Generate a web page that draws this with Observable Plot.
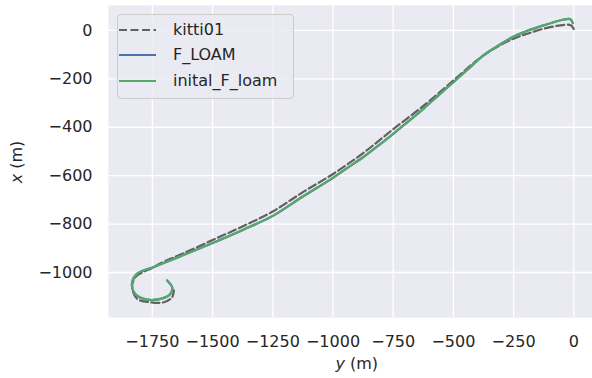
<!DOCTYPE html>
<html>
<head>
<meta charset="utf-8">
<script src="https://cdn.jsdelivr.net/npm/d3@7"></script>
<script src="https://cdn.jsdelivr.net/npm/@observablehq/plot@0.6"></script>
<style>
  html, body { margin: 0; padding: 0; background: #ffffff; }
  #wrap { position: relative; width: 592px; height: 378px; overflow: hidden;
          font-family: "DejaVu Sans", sans-serif; color: #262626; }
  #wrap svg { position: absolute; left: 0; top: 0; }
  .axlabel { position: absolute; font-size: 16px; line-height: 16px; white-space: nowrap; }
  #legend { position: absolute; left: 117px; top: 14px; width: 175px; height: 83px;
            background: rgba(234,234,242,0.8); border: 1px solid #cccccc; border-radius: 4px; }
  .lrow { position: absolute; left: 0; height: 20px; width: 175px; }
  .lrow svg { position: absolute; left: 5px; top: 0; }
  .lrow span { position: absolute; left: 55px; top: 2px; font-size: 16px; line-height: 16px; }
</style>
</head>
<body>
<div id="wrap"></div>
<script>
// kitti01 ground truth (horizontal: y in m, vertical: x in m)
const gtY = [0, -8, -18, -56, -125, -194, -250, -333, -400, -500, -625, -750, -875, -1000, -1125, -1250, -1372, -1500, -1633, -1716, -1744, -1820, -1834, -1813, -1757, -1703, -1668, -1661];
const gtX = [6, 18, 23, 21, 7, -14, -34, -76, -122, -207, -312, -408, -507, -593, -668, -748, -808, -866, -926, -962, -978, -1019, -1061, -1109, -1123, -1123, -1102, -1074];

// F_LOAM estimate
const floamY = [-4, -12, -22, -42, -70, -125, -190, -250, -312, -375, -437, -500, -562, -625, -687, -750, -812, -875, -937, -1000, -1125, -1250, -1372, -1500, -1626, -1716, -1744, -1813, -1834, -1827, -1786, -1716, -1675, -1668, -1689];
const floamX = [30, 45, 48, 45, 38, 21, 0, -25, -62, -103, -158, -214, -268, -324, -376, -427, -476, -524, -566, -609, -686, -766, -823, -878, -930, -966, -977, -1005, -1040, -1081, -1109, -1109, -1088, -1061, -1033];

// inital_F_loam estimate (indistinguishable from F_LOAM in the picture)
const initY = [-4, -12, -22, -42, -70, -125, -190, -250, -312, -375, -437, -500, -562, -625, -687, -750, -812, -875, -937, -1000, -1125, -1250, -1372, -1500, -1626, -1716, -1744, -1813, -1834, -1827, -1786, -1716, -1675, -1668, -1689];
const initX = [30, 45, 48, 45, 38, 21, 0, -25, -62, -103, -158, -214, -268, -324, -376, -427, -476, -524, -566, -609, -686, -766, -823, -878, -930, -966, -977, -1005, -1040, -1081, -1109, -1109, -1088, -1061, -1033];

const xTicks = [-1750, -1500, -1250, -1000, -750, -500, -250, 0];
const yTicks = [0, -200, -400, -600, -800, -1000];
const seriesNames = ["kitti01", "F_LOAM", "inital_F_loam"];
const seriesColors = ["#616161", "#4C72B0", "#55A868"];
const xLabel = ["y", " (m)"];
const yLabel = ["x", " (m)"];

const toRows = (ys, xs, name) => ys.map((v, i) => ({h: v, v: xs[i], name}));
const gt = toRows(gtY, gtX, seriesNames[0]);
const floam = toRows(floamY, floamX, seriesNames[1]);
const init = toRows(initY, initX, seriesNames[2]);

const fmt = d3.format("d");
const chart = Plot.plot({
  width: 592,
  height: 378,
  marginLeft: 108,
  marginRight: 0,
  marginTop: 5,
  marginBottom: 61,
  style: {fontFamily: "DejaVu Sans", fontSize: "16px", color: "#262626", background: "transparent"},
  x: {domain: [-1932.3, 77.7]},
  y: {domain: [-1186, 103]},
  marks: [
    Plot.frame({fill: "#EAEAF2", stroke: "none"}),
    Plot.gridX(xTicks, {stroke: "#ffffff", strokeOpacity: 1, strokeWidth: 1.3}),
    Plot.gridY(yTicks, {stroke: "#ffffff", strokeOpacity: 1, strokeWidth: 1.3}),
    Plot.axisX(xTicks, {tickSize: 0, tickPadding: 18, tickFormat: fmt, label: null, fontSize: 16, fill: "#262626"}),
    Plot.axisY(yTicks, {tickSize: 0, tickPadding: 16, tickFormat: fmt, label: null, fontSize: 16, fill: "#262626"}),
    Plot.line(gt, {x: "h", y: "v", stroke: seriesColors[0], strokeWidth: 2.2, strokeDasharray: "8,3.5", curve: "catmull-rom"}),
    Plot.line(floam, {x: "h", y: "v", stroke: seriesColors[1], strokeWidth: 2.2, curve: "catmull-rom"}),
    Plot.line(init, {x: "h", y: "v", stroke: seriesColors[2], strokeWidth: 2.2, curve: "catmull-rom"})
  ]
});

const wrap = document.getElementById("wrap");
wrap.appendChild(chart);

// axis labels (mathtext-style italic variable)
const xl = document.createElement("div");
xl.className = "axlabel";
xl.style.left = "356.7px"; xl.style.top = "356px"; xl.style.transform = "translateX(-50%)";
xl.innerHTML = `<i>${xLabel[0]}</i>${xLabel[1]}`;
wrap.appendChild(xl);

const yl = document.createElement("div");
yl.className = "axlabel";
yl.style.left = "16.7px"; yl.style.top = "162px"; yl.style.transform = "translate(-50%,-50%) rotate(-90deg)";
yl.innerHTML = `<i>${yLabel[0]}</i>${yLabel[1]}`;
wrap.appendChild(yl);

// legend
const legend = document.createElement("div");
legend.id = "legend";
const rowTops = [5, 30, 56];
seriesNames.forEach((name, i) => {
  const row = document.createElement("div");
  row.className = "lrow";
  row.style.top = rowTops[i] + "px";
  const dash = i === 0 ? `stroke-dasharray="8,3.5"` : "";
  row.innerHTML = `<svg width="40" height="20"><line x1="1" x2="38" y1="10" y2="10" stroke="${seriesColors[i]}" stroke-width="2.2" ${dash}/></svg><span>${name}</span>`;
  legend.appendChild(row);
});
wrap.appendChild(legend);
</script>
</body>
</html>
